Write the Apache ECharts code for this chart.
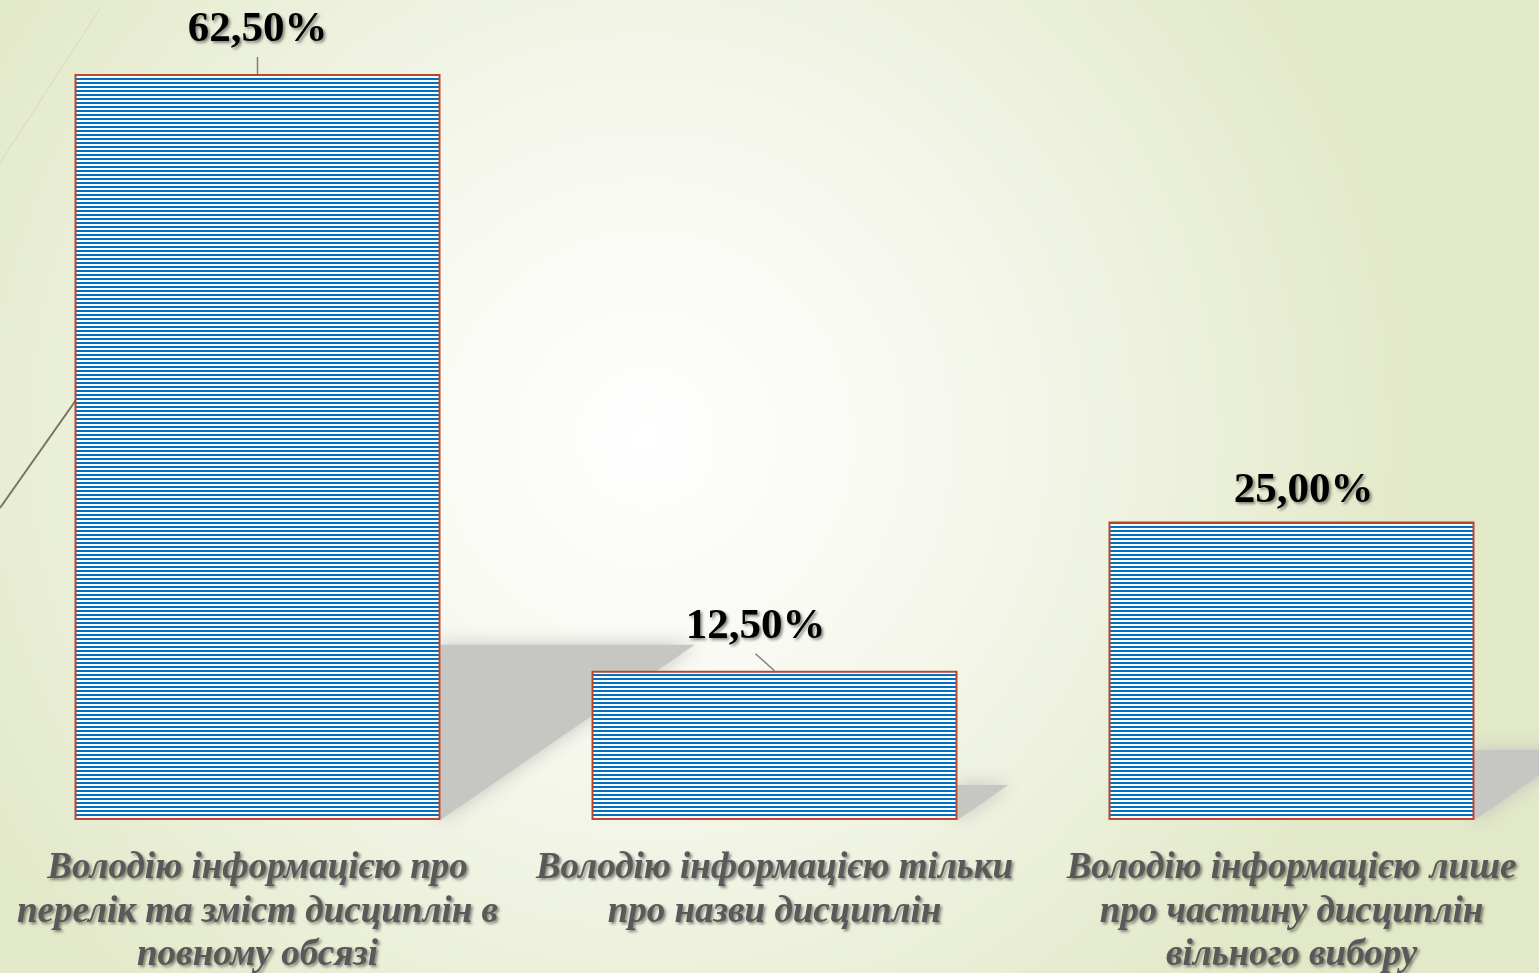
<!DOCTYPE html>
<html>
<head>
<meta charset="utf-8">
<script src="https://cdn.jsdelivr.net/npm/echarts@6/dist/echarts.min.js"></script>
<style>
  html, body { margin: 0; padding: 0; overflow: hidden; }
  #chart { width: 1539px; height: 973px; }
</style>
</head>
<body>
<div id="chart"></div>
<script>
const categories = [
  'Володію інформацією про\nперелік та зміст дисциплін в\nповному обсязі',
  'Володію інформацією тільки\nпро назви дисциплін',
  'Володію інформацією лише\nпро частину дисциплін\nвільного вибору'
]
const values = [62.5, 12.5, 25.0]
// label shifts and leader lines, as placed in the original
const labelShiftX = [0, -19, 12]
const labelShiftY = [-11, -10, 3]
const hasLeader = [true, true, false]

// horizontal stripe fill
const stripe = document.createElement('canvas')
stripe.width = 4
stripe.height = 4
const sctx = stripe.getContext('2d')
sctx.fillStyle = '#ffffff'
sctx.fillRect(0, 0, 4, 2)
sctx.fillStyle = '#0070C0'
sctx.fillRect(0, 2, 4, 2)

const fmt = v => v.toFixed(2).replace('.', ',') + '%'
const BAR_W = 366

const chart = echarts.init(document.getElementById('chart'))
const options = {
  backgroundColor: {
    type: 'radial', x: 0.42, y: 0.45, r: 0.8,
    colorStops: [
      { offset: 0, color: '#ffffff' },
      { offset: 0.35, color: '#f7f9f1' },
      { offset: 1, color: '#e2e9c8' }
    ]
  },
  animation: false,
  graphic: [
    { type: 'line', z: 0, shape: { x1: 101, y1: 7, x2: 0, y2: 163 },
      style: { stroke: '#d4d7c4', lineWidth: 1 } },
    { type: 'line', z: 0, shape: { x1: 76, y1: 400, x2: 0, y2: 508 },
      style: { stroke: '#7a7463', lineWidth: 2 } }
  ],
  grid: { left: -1, width: 1551, top: 74, bottom: 153, outerBoundsMode: 'none', containLabel: false },
  xAxis: {
    type: 'category',
    data: categories,
    axisLine: { show: false },
    axisTick: { show: false },
    axisLabel: {
      margin: 27,
      interval: 0,
      fontFamily: 'Liberation Serif',
      fontStyle: 'italic',
      fontWeight: 'bold',
      fontSize: 37,
      lineHeight: 43.5,
      color: '#595959',
      textShadowColor: 'rgba(0,0,0,0.45)',
      textShadowBlur: 3,
      textShadowOffsetX: 2,
      textShadowOffsetY: 2
    }
  },
  yAxis: {
    type: 'value', min: 0, max: 62.5, show: false,
    splitLine: { show: false }
  },
  series: [
    {
      // soft perspective shadow behind every bar, plus label leader lines
      type: 'custom',
      z: 1,
      silent: true,
      data: values.map((v, i) => [i, v]),
      renderItem: (params, api) => {
        const i = params.dataIndex
        const top = api.coord([api.value(0), api.value(1)])
        const base = api.coord([api.value(0), 0])
        const h = base[1] - top[1]
        const sh = h * 0.235
        const sw = sh * 1.45
        const rx = top[0] + BAR_W / 2
        const children = [{
          type: 'polygon',
          shape: { points: [[rx, base[1] - sh], [rx + sw, base[1] - sh], [rx, base[1]]] },
          style: {
            fill: '#c6c7c2',
            shadowBlur: 18,
            shadowColor: 'rgba(190,191,186,0.9)'
          }
        }]
        if (hasLeader[i]) {
          children.push({
            type: 'line',
            z2: 10,
            shape: { x1: top[0] + labelShiftX[i], y1: top[1] - 17, x2: top[0], y2: top[1] },
            style: { stroke: '#7f7f7f', lineWidth: 1.5 }
          })
        }
        return { type: 'group', children: children }
      }
    },
    {
      type: 'bar',
      z: 2,
      data: values,
      barWidth: BAR_W,
      itemStyle: {
        color: { image: stripe, repeat: 'repeat' },
        borderColor: '#b9472f',
        borderWidth: 2
      },
      label: {
        show: true,
        position: 'top',
        distance: 12,
        formatter: p => fmt(p.value),
        fontFamily: 'Liberation Serif',
        fontWeight: 'bold',
        fontSize: 43,
        color: '#000000',
        textShadowColor: 'rgba(0,0,0,0.45)',
        textShadowBlur: 3,
        textShadowOffsetX: 2,
        textShadowOffsetY: 2
      },
      labelLayout: p => ({ dx: labelShiftX[p.dataIndex], dy: labelShiftY[p.dataIndex] })
    }
  ]
}
chart.setOption(options)
window.addEventListener('resize', function () {
  chart && chart.resize()
})
</script>
</body>
</html>
